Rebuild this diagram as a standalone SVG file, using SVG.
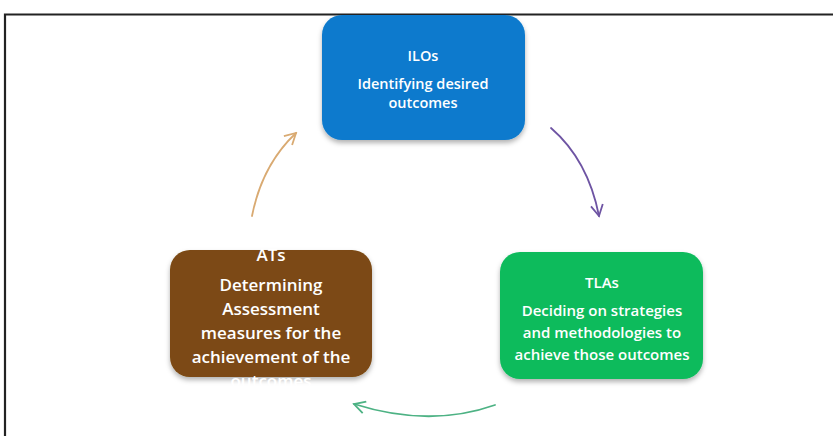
<svg xmlns="http://www.w3.org/2000/svg" width="833" height="436" viewBox="0 0 833 436">
<style>
.t{font-family:"Open Sans","Liberation Sans",sans-serif;fill:#fff;text-anchor:middle;font-weight:600}
.c{fill:none;stroke-width:1.8;stroke-linecap:round}
</style>
<defs>
<filter id="sh" x="-10%" y="-10%" width="120%" height="130%">
<feDropShadow dx="0" dy="3" stdDeviation="2.5" flood-color="#000" flood-opacity="0.3"/>
</filter>
<marker id="ahT" viewBox="0 0 14 14" refX="12" refY="7" markerWidth="14" markerHeight="14" markerUnits="userSpaceOnUse" orient="auto">
<path d="M1,1 L12,7 L1,13" fill="none" stroke="#D9AA72" stroke-width="1.8"/>
</marker>
<marker id="ahP" viewBox="0 0 14 14" refX="12" refY="7" markerWidth="14" markerHeight="14" markerUnits="userSpaceOnUse" orient="auto">
<path d="M1,1 L12,7 L1,13" fill="none" stroke="#6E54A3" stroke-width="1.8"/>
</marker>
<marker id="ahG" viewBox="0 0 14 14" refX="12" refY="7" markerWidth="14" markerHeight="14" markerUnits="userSpaceOnUse" orient="auto">
<path d="M1,1 L12,7 L1,13" fill="none" stroke="#4DB284" stroke-width="1.8"/>
</marker>
</defs>
<rect width="833" height="436" fill="#fff"/>
<path d="M5,436 V14.5 H833" fill="none" stroke="#222" stroke-width="2.2"/>
<g id="connectors">
<path class="c" d="M252,216 Q262,165 296,133" stroke="#D9AA72" marker-end="url(#ahT)"/>
<path class="c" d="M551,128 Q588,160 599,216" stroke="#6E54A3" marker-end="url(#ahP)"/>
<path class="c" d="M495,405 Q430,428 354,404" stroke="#4DB284" marker-end="url(#ahG)"/>
</g>
<g id="ilos">
<rect x="322" y="15" width="203" height="125" rx="20" fill="#0A7ACD" filter="url(#sh)"/>
<text class="t" x="423" y="61" font-size="14.5">ILOs</text>
<text class="t" x="423" y="89" font-size="14.5">Identifying desired</text>
<text class="t" x="423" y="108" font-size="14.5">outcomes</text>
</g>
<g id="tlas">
<rect x="500" y="252" width="203" height="127" rx="20" fill="#0BBB5B" filter="url(#sh)"/>
<text class="t" x="602" y="288" font-size="15">TLAs</text>
<text class="t" x="602" y="316" font-size="15">Deciding on strategies</text>
<text class="t" x="602" y="338" font-size="15">and methodologies to</text>
<text class="t" x="602" y="360" font-size="15">achieve those outcomes</text>
</g>
<g id="ats">
<rect x="170" y="250" width="202" height="127" rx="20" fill="#7B4A12" filter="url(#sh)"/>
<text class="t" x="271" y="261" font-size="17">ATs</text>
<text class="t" x="271" y="291" font-size="17">Determining</text>
<text class="t" x="271" y="315" font-size="17">Assessment</text>
<text class="t" x="271" y="339" font-size="17">measures for the</text>
<text class="t" x="271" y="363" font-size="17">achievement of the</text>
<text class="t" x="271" y="387" font-size="17">outcomes</text>
</g>
</svg>
